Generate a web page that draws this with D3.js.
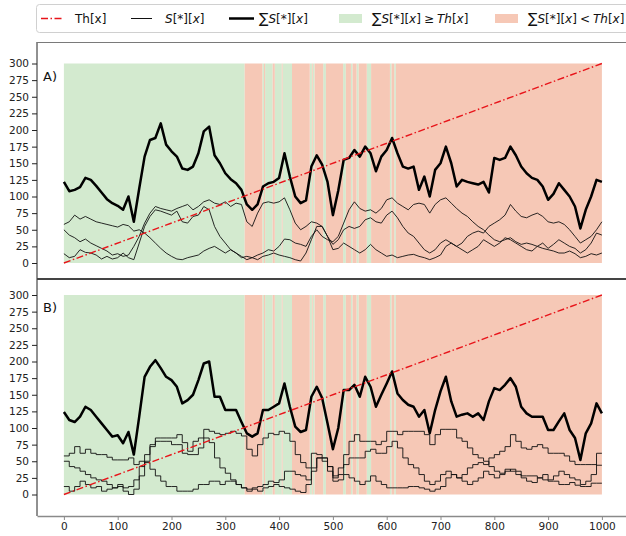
<!DOCTYPE html>
<html>
<head>
<meta charset="utf-8">
<script src="https://cdn.jsdelivr.net/npm/d3@7"></script>
<style>
  html, body { margin: 0; padding: 0; background: #fff; }
  svg { display: block; font-family: "DejaVu Sans", sans-serif; }
</style>
</head>
<body>
<svg id="chart" width="626" height="536"></svg>
<script>
// Sampling step of every series (x = 0, 10, 20, ... 1000)
const step = 10;

// Threshold Th[x]: straight line from 0 to 300
const thStart = 0;
const thEnd = 300;

// Panel A: three individual series and their total
const a1 = [58,62,72,66,70,66,62,60,58,56,54,
  58,56,48,50,45,38,30,22,15,10,
  6,5,8,10,12,18,22,25,20,15,
  20,15,8,10,8,12,15,20,18,25,
  36,35,30,28,25,40,50,40,35,32,
  40,60,80,92,82,78,80,75,82,95,
  98,90,85,80,88,90,88,75,88,95,
  98,90,82,75,70,62,55,50,42,35,
  32,35,38,32,28,30,28,25,22,20,
  18,15,15,18,14,8,10,14,12,15];
const a2 = [50,42,38,32,36,30,26,22,18,12,14,
  10,12,25,40,60,75,85,82,80,78,
  82,85,88,80,85,92,95,90,88,92,
  85,90,88,62,55,75,90,92,90,92,
  98,80,60,50,55,62,60,55,40,28,
  35,50,55,52,55,65,68,62,60,72,
  78,68,55,45,40,30,20,15,20,30,
  35,30,25,30,40,45,48,45,55,60,
  65,72,88,78,70,68,72,75,70,62,
  60,62,58,50,40,30,35,40,50,62];
const a3 = [14,8,10,20,16,15,12,6,10,6,8,
  15,8,5,30,55,70,80,78,75,72,
  78,62,60,70,72,85,80,55,40,30,
  20,15,10,5,8,5,10,12,15,12,
  10,8,5,3,15,35,55,55,40,20,
  22,30,25,20,15,20,28,20,15,10,
  12,8,10,12,13,10,8,5,8,12,
  25,30,25,20,15,20,25,35,30,25,
  30,38,35,30,25,20,18,25,30,22,
  28,35,30,25,22,15,20,30,45,42];
const sumA = [122,108,110,114,128,125,116,106,96,90,86,
  80,100,62,112,160,185,188,210,178,168,
  160,142,140,145,165,198,205,162,150,135,
  126,120,110,88,80,88,115,120,122,128,
  165,130,100,90,94,145,162,148,122,72,
  109,155,158,170,160,175,165,138,160,170,
  188,165,145,142,145,110,130,100,140,150,
  175,150,115,125,122,120,118,122,106,158,
  155,158,175,162,145,135,128,125,115,95,
  104,120,110,100,85,52,80,100,125,122];

// Panel B: three held (stepwise) series and their total
const b1 = [58,62,72,62,68,62,60,60,56,52,52,
  52,55,45,50,48,38,28,20,12,12,
  5,5,5,8,15,15,20,20,15,20,
  20,15,10,8,10,12,15,20,18,22,
  35,35,30,28,22,40,55,50,35,25,
  40,60,80,90,80,80,80,75,80,95,
  95,90,95,95,95,95,90,75,90,98,
  98,98,85,80,70,60,55,50,42,35,
  32,35,38,35,28,28,28,25,22,20,
  20,15,15,18,14,12,12,17,17,17];
const b2 = [50,42,40,35,30,25,22,20,15,10,15,
  10,12,22,42,60,75,85,85,85,85,
  90,78,65,80,85,98,95,92,90,92,
  95,92,88,68,58,75,85,92,90,95,
  92,80,60,48,40,62,60,55,42,28,
  30,45,55,55,55,65,68,62,62,72,
  80,70,55,45,40,30,20,15,20,30,
  35,30,25,30,40,45,48,45,55,60,
  65,72,90,80,70,68,72,75,70,62,
  62,62,58,50,45,45,45,45,44,44];
const b3 = [12,5,12,20,15,10,12,5,8,10,12,
  5,0,8,28,50,72,80,80,80,75,
  75,62,60,60,70,85,78,55,40,32,
  22,15,10,5,8,5,10,12,15,12,
  10,8,5,3,15,35,55,55,42,20,
  22,30,25,20,15,20,28,20,15,10,
  10,10,10,12,12,10,8,5,8,12,
  25,30,25,20,15,20,25,35,30,25,
  30,38,35,30,25,20,18,25,30,22,
  28,35,30,25,22,15,20,30,62,62];
const sumB = [124,112,109,117,132,127,117,107,97,87,89,
  77,94,60,117,177,192,202,190,177,172,
  162,137,142,150,172,197,200,147,147,127,
  127,127,109,92,87,92,127,127,132,137,
  167,132,102,94,97,147,162,145,107,68,
  100,157,157,165,147,177,162,132,150,167,
  185,152,142,135,132,117,127,92,127,155,
  177,140,117,120,122,117,122,112,140,160,
  157,165,175,162,132,122,117,117,117,97,
  97,110,122,97,85,52,92,107,137,122];

// Intervals where the total is at or above the threshold
const aboveSpans = [[0,336],[369,372],[374,388],[392,405],[406.5,424],[457,461],
  [462.5,466],[482,487],[519,524],[533.5,536.5],[544,548],[563,571],[606,609],[614,617]];

// Axis ticks
const yTicks = [0,25,50,75,100,125,150,175,200,225,250,275,300];
const xTicks = [0,100,200,300,400,500,600,700,800,900,1000];

const GREEN = "#d3eacf";
const RED = "#f6c8b6";
const TH_DASH = "7,2.5,1.5,2.5";

const svg = d3.select("#chart");

const x = d3.scaleLinear().domain([-50, 1050]).range([37, 628.8]);
const toPts = arr => arr.map((v, i) => ({x: i * step, v}));

// Complement of the "above" spans within [0, 1000]
function belowSpans(spans) {
  const out = [];
  let cur = 0;
  spans.forEach(([s, e]) => { if (s > cur) out.push([cur, s]); cur = Math.max(cur, e); });
  if (cur < 1000) out.push([cur, 1000]);
  return out;
}

function drawPanel(cfg) {
  const y = d3.scaleLinear().domain([0, 300]).range([cfg.y0, cfg.y300]);
  const g = svg.append("g");

  // background spans
  g.selectAll("rect.above").data(aboveSpans).join("rect")
    .attr("x", d => x(d[0])).attr("width", d => x(d[1]) - x(d[0]))
    .attr("y", y(300)).attr("height", y(0) - y(300))
    .attr("fill", GREEN);
  g.selectAll("rect.below").data(belowSpans(aboveSpans)).join("rect")
    .attr("x", d => x(d[0])).attr("width", d => x(d[1]) - x(d[0]))
    .attr("y", y(300)).attr("height", y(0) - y(300))
    .attr("fill", RED);

  const thin = d3.line().x(d => x(d.x)).y(d => y(d.v)).curve(cfg.curve);
  cfg.series.forEach(s => {
    g.append("path").datum(toPts(s)).attr("d", thin)
      .attr("fill", "none").attr("stroke", "#111").attr("stroke-width", 0.9)
      .attr("stroke-linejoin", "round");
  });

  const thick = d3.line().x(d => x(d.x)).y(d => y(d.v));
  g.append("path").datum(toPts(cfg.total)).attr("d", thick)
    .attr("fill", "none").attr("stroke", "#000").attr("stroke-width", 2.5)
    .attr("stroke-linejoin", "round");

  // threshold
  g.append("line")
    .attr("x1", x(0)).attr("y1", y(thStart))
    .attr("x2", x(1000)).attr("y2", y(thEnd))
    .attr("stroke", "#e8141a").attr("stroke-width", 1.4)
    .attr("stroke-dasharray", TH_DASH);

  // y axis
  const ax = g.append("g").attr("transform", "translate(37,0)")
    .call(d3.axisLeft(y).tickValues(yTicks).tickSize(5).tickPadding(3));
  ax.select(".domain").remove();
  ax.selectAll("line").attr("stroke", "#222");
  ax.selectAll("text").attr("font-size", "10.5px").attr("fill", "#222")
    .attr("font-family", "DejaVu Sans");

  // left spine
  g.append("line").attr("x1", 37).attr("x2", 37)
    .attr("y1", cfg.top).attr("y2", cfg.bottom)
    .attr("stroke", "#222").attr("stroke-width", 1);

  // panel letter
  g.append("text").attr("x", 43).attr("y", cfg.y300 + 17)
    .attr("font-size", "13px").attr("fill", "#111").text(cfg.label);
}

drawPanel({y0: 263, y300: 63.5, top: 42, bottom: 279, series: [a1, a2, a3], total: sumA,
  curve: d3.curveLinear, label: "A)"});
drawPanel({y0: 494.5, y300: 295, top: 279, bottom: 516, series: [b1, b2, b3], total: sumB,
  curve: d3.curveStepAfter, label: "B)"});

// frame lines across the figure
svg.append("line").attr("x1", 37).attr("x2", 626).attr("y1", 42.5).attr("y2", 42.5)
  .attr("stroke", "#7a7a7a").attr("stroke-width", 1.2);
svg.append("line").attr("x1", 37).attr("x2", 626).attr("y1", 279).attr("y2", 279)
  .attr("stroke", "#444").attr("stroke-width", 2);

// bottom x axis
const xa = svg.append("g").attr("transform", "translate(0,516)")
  .call(d3.axisBottom(x).tickValues(xTicks).tickFormat(d3.format("d"))
    .tickSize(4).tickSizeOuter(0).tickPadding(3));
xa.select(".domain").attr("stroke", "#8a8a8a").attr("stroke-width", 1.3);
xa.selectAll(".tick line").attr("stroke", "#8a8a8a");
xa.selectAll("text").attr("font-size", "10.5px").attr("fill", "#222")
  .attr("font-family", "DejaVu Sans");

// legend
const lg = svg.append("g");
lg.append("rect").attr("x", 36.5).attr("y", 4.5).attr("width", 600).attr("height", 28)
  .attr("rx", 3).attr("fill", "#fff").attr("stroke", "#d0d0d0").attr("stroke-width", 1);

const ly = 18.5, tb = 22.5;
lg.append("line").attr("x1", 41).attr("x2", 63).attr("y1", ly).attr("y2", ly)
  .attr("stroke", "#e8141a").attr("stroke-width", 1.4).attr("stroke-dasharray", TH_DASH);
lg.append("line").attr("x1", 131).attr("x2", 152).attr("y1", ly).attr("y2", ly)
  .attr("stroke", "#111").attr("stroke-width", 1);
lg.append("line").attr("x1", 229).attr("x2", 254).attr("y1", ly).attr("y2", ly)
  .attr("stroke", "#000").attr("stroke-width", 2.5);
lg.append("rect").attr("x", 339).attr("y", 14).attr("width", 23).attr("height", 9)
  .attr("fill", GREEN);
lg.append("rect").attr("x", 495).attr("y", 14).attr("width", 23).attr("height", 9)
  .attr("fill", RED);

function richText(xp, parts) {
  const t = lg.append("text").attr("x", xp).attr("y", tb)
    .attr("font-size", "12px").attr("fill", "#111");
  parts.forEach(p => {
    const ts = t.append("tspan").text(p.t);
    if (p.i) ts.attr("font-style", "italic");
    if (p.big) ts.attr("font-size", "14px");
    if (p.dx) ts.attr("dx", p.dx);
  });
}
const sumLabel = [{t: "\u2211", big: true}, {t: "S", i: true}, {t: "[*]["}, {t: "x", i: true}, {t: "]"}];
richText(75, [{t: "Th[x]"}]);
richText(165, [{t: "S", i: true}, {t: "[*]["}, {t: "x", i: true}, {t: "]"}]);
richText(259, sumLabel);
richText(372, sumLabel.concat([{t: "\u2265", dx: 3}, {t: "T", i: true, dx: 3}, {t: "h", i: true}, {t: "["}, {t: "x", i: true}, {t: "]"}]));
richText(528, sumLabel.concat([{t: "<", dx: 3}, {t: "T", i: true, dx: 3}, {t: "h", i: true}, {t: "["}, {t: "x", i: true}, {t: "]"}]));
</script>
</body>
</html>
